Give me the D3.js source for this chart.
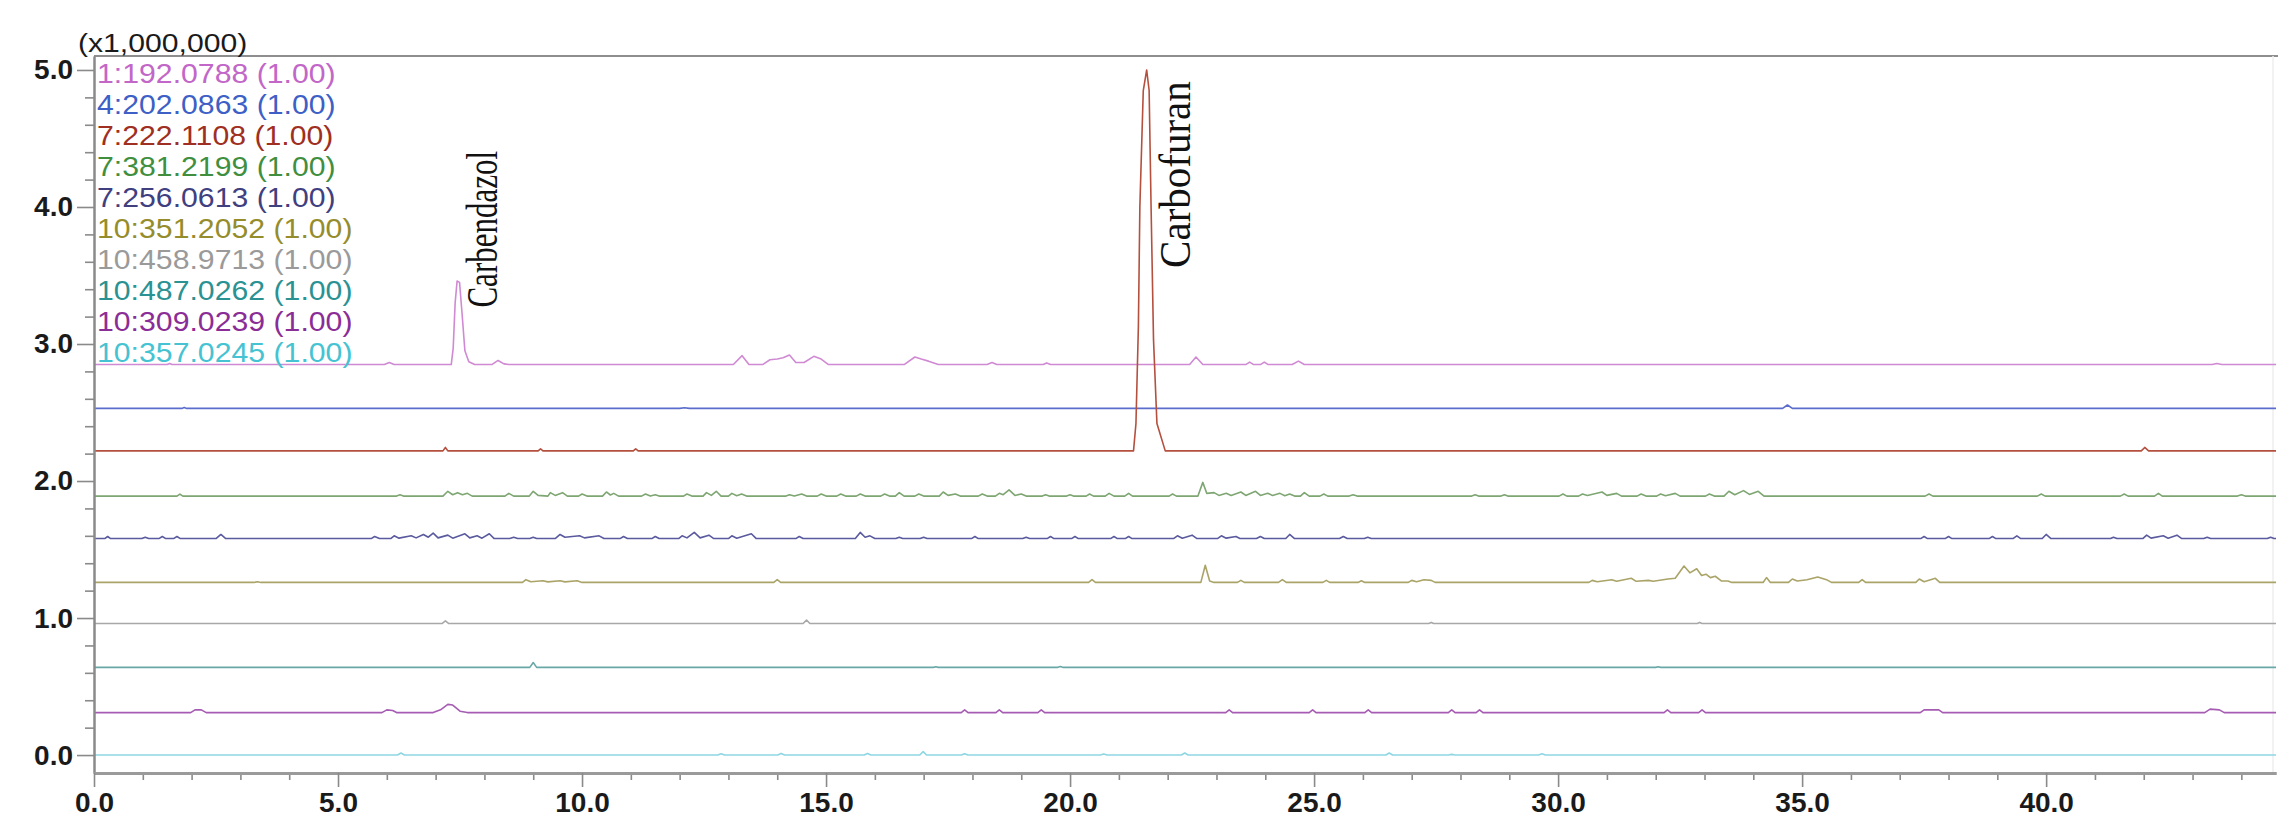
<!DOCTYPE html>
<html>
<head>
<meta charset="utf-8">
<script src="https://cdn.jsdelivr.net/npm/d3@7"></script>
<style>
  html, body { margin: 0; padding: 0; background: #fff; }
  svg { display: block; }
</style>
</head>
<body>
<svg id="chart" width="2278" height="827"></svg>
<script>
// ---------------- DATA ----------------
const seriesLabels = ["1:192.0788 (1.00)", "4:202.0863 (1.00)", "7:222.1108 (1.00)", "7:381.2199 (1.00)",
  "7:256.0613 (1.00)", "10:351.2052 (1.00)", "10:458.9713 (1.00)", "10:487.0262 (1.00)",
  "10:309.0239 (1.00)", "10:357.0245 (1.00)"];
// baseline offset of each trace (x1,000,000)
const baselines = [2.85, 2.53, 2.22, 1.89, 1.58, 1.26, 0.96, 0.64, 0.31, 0.0];
const xMajorTicks = [0, 5, 10, 15, 20, 25, 30, 35, 40];
const yMajorTicks = [0, 1, 2, 3, 4, 5];
const yUnitLabel = "(x1,000,000)";
const peakNames = ["Carbendazol", "Carbofuran"];

// intensity above baseline, [time (min), intensity (x1,000,000)]
const s1 = [[0,0],[1.5,0],[1.55,0.008],[1.6,0],[5.95,0],[6.05,0.015],[6.15,0],[7.32,0],[7.36,0.12],[7.4,0.45],[7.44,0.61],[7.49,0.6],[7.54,0.38],[7.6,0.1],[7.68,0.02],[7.8,0],[8.15,0],[8.28,0.03],[8.4,0.005],[8.5,0],[13.1,0],[13.28,0.065],[13.42,0],[13.7,0],[13.85,0.035],[14.0,0.04],[14.12,0.05],[14.25,0.07],[14.38,0.015],[14.55,0.015],[14.75,0.06],[14.9,0.04],[15.05,0],[16.6,0],[16.82,0.055],[16.95,0.04],[17.1,0.025],[17.3,0],[18.3,0],[18.4,0.015],[18.5,0],[19.45,0],[19.52,0.012],[19.6,0],[22.45,0],[22.58,0.055],[22.72,0],[23.6,0],[23.68,0.018],[23.76,0],[23.9,0],[23.98,0.018],[24.06,0],[24.55,0],[24.68,0.025],[24.8,0],[43.4,0],[43.5,0.008],[43.6,0],[44.71,0]];
const s2 = [[0,0],[1.8,0],[1.85,0.006],[1.9,0],[12.0,0],[12.1,0.005],[12.2,0],[34.6,0],[34.7,0.025],[34.8,0],[44.71,0]];
const s3 = [[0,0],[7.15,0],[7.2,0.025],[7.25,0],[9.1,0],[9.15,0.015],[9.2,0],[11.05,0],[11.1,0.015],[11.15,0],[21.3,0],[21.35,0.2],[21.4,0.91],[21.43,1.78],[21.5,2.63],[21.57,2.78],[21.62,2.63],[21.66,1.78],[21.71,0.81],[21.78,0.2],[21.95,0],[41.95,0],[42.02,0.025],[42.1,0],[44.71,0]];
const s4 = [[0,0],[1.7,0],[1.76,0.015],[1.82,0],[6.2,0],[6.27,0.01],[6.34,0],[7.15,0],[7.25,0.035],[7.35,0.01],[7.45,0.025],[7.55,0.01],[7.65,0.02],[7.75,0],[8.42,0],[8.5,0.02],[8.6,0],[8.92,0],[9.0,0.035],[9.1,0.005],[9.3,0],[9.35,0.025],[9.45,0.005],[9.6,0.025],[9.7,0],[9.93,0],[10.0,0.015],[10.1,0],[10.42,0],[10.5,0.03],[10.58,0.008],[10.65,0.02],[10.75,0],[11.22,0],[11.3,0.015],[11.4,0],[11.5,0.01],[11.58,0],[12.08,0],[12.15,0.015],[12.25,0],[12.48,0],[12.55,0.025],[12.65,0.005],[12.75,0.035],[12.85,0],[13.0,0],[13.07,0.02],[13.17,0.003],[13.27,0.015],[13.37,0],[14.18,0],[14.25,0.01],[14.35,0],[14.5,0.015],[14.6,0],[14.82,0],[14.9,0.015],[15.0,0],[15.22,0],[15.3,0.015],[15.4,0],[15.62,0],[15.7,0.015],[15.8,0],[16.12,0],[16.2,0.015],[16.3,0],[16.42,0],[16.5,0.025],[16.6,0],[16.82,0],[16.9,0.015],[17.0,0],[17.32,0],[17.4,0.03],[17.5,0.005],[17.65,0.015],[17.75,0],[18.12,0],[18.2,0.015],[18.3,0],[18.47,0],[18.55,0.02],[18.63,0.01],[18.75,0.045],[18.87,0.005],[19.0,0.015],[19.1,0],[19.43,0],[19.5,0.01],[19.57,0],[19.93,0],[20.0,0.01],[20.07,0],[20.33,0],[20.4,0.015],[20.48,0],[20.72,0],[20.8,0.02],[20.9,0],[21.12,0],[21.2,0.02],[21.28,0],[22.03,0],[22.1,0.015],[22.18,0],[22.62,0],[22.72,0.1],[22.8,0.02],[22.95,0.025],[23.05,0.005],[23.2,0.02],[23.3,0.005],[23.5,0.03],[23.6,0.005],[23.8,0.035],[23.9,0.005],[24.05,0.02],[24.15,0.005],[24.3,0.02],[24.4,0.003],[24.5,0.015],[24.6,0],[24.72,0],[24.8,0.025],[24.9,0],[25.12,0],[25.2,0.015],[25.28,0],[25.72,0],[25.8,0.01],[25.88,0],[28.23,0],[28.3,0.01],[28.37,0],[28.83,0],[28.9,0.01],[28.97,0],[30.02,0],[30.1,0.015],[30.18,0],[30.42,0],[30.5,0.015],[30.6,0.005],[30.9,0.03],[31.0,0.005],[31.2,0.02],[31.3,0],[31.62,0],[31.7,0.015],[31.8,0],[32.02,0],[32.1,0.015],[32.2,0.003],[32.4,0.02],[32.5,0],[33.02,0],[33.1,0.015],[33.2,0],[33.4,0],[33.5,0.035],[33.62,0.01],[33.8,0.04],[33.92,0.012],[34.1,0.035],[34.22,0],[37.52,0],[37.6,0.015],[37.68,0],[39.82,0],[39.9,0.015],[39.98,0],[41.52,0],[41.6,0.015],[41.68,0],[42.22,0],[42.3,0.02],[42.38,0],[43.92,0],[44.0,0.01],[44.08,0],[44.71,0]];
const s5 = [[0,0],[0.22,0],[0.28,0.015],[0.34,0],[0.98,0],[1.05,0.01],[1.12,0],[1.33,0],[1.4,0.015],[1.47,0],[1.63,0],[1.7,0.015],[1.77,0],[2.5,0],[2.6,0.03],[2.7,0],[5.68,0],[5.75,0.015],[5.85,0],[6.08,0],[6.15,0.02],[6.25,0.003],[6.5,0.02],[6.6,0.005],[6.75,0.03],[6.85,0.01],[6.95,0.04],[7.05,0.005],[7.25,0.025],[7.35,0.003],[7.6,0.035],[7.7,0.005],[7.85,0.02],[7.95,0.003],[8.1,0.035],[8.2,0],[8.52,0],[8.6,0.01],[8.68,0],[8.93,0],[9.0,0.01],[9.07,0],[9.45,0],[9.55,0.03],[9.65,0.01],[9.95,0.02],[10.05,0.005],[10.35,0.02],[10.45,0],[10.78,0],[10.85,0.015],[10.93,0],[11.43,0],[11.5,0.015],[11.58,0],[11.98,0],[12.05,0.02],[12.15,0.005],[12.3,0.045],[12.42,0.005],[12.6,0.025],[12.7,0],[13.0,0],[13.07,0.02],[13.17,0.003],[13.47,0.035],[13.57,0],[14.38,0],[14.45,0.015],[14.53,0],[15.6,0],[15.7,0.045],[15.8,0.01],[15.9,0.02],[16.0,0],[16.43,0],[16.5,0.01],[16.57,0],[16.93,0],[17.0,0.01],[17.07,0],[17.98,0],[18.05,0.015],[18.12,0],[19.03,0],[19.1,0.01],[19.17,0],[19.53,0],[19.6,0.015],[19.67,0],[20.03,0],[20.1,0.015],[20.17,0],[20.83,0],[20.9,0.015],[20.97,0],[21.13,0],[21.2,0.015],[21.27,0],[22.12,0],[22.2,0.02],[22.3,0.003],[22.5,0.025],[22.6,0],[23.02,0],[23.1,0.02],[23.2,0.003],[23.4,0.015],[23.48,0],[23.82,0],[23.9,0.015],[23.98,0],[24.42,0],[24.5,0.03],[24.6,0],[25.52,0],[25.6,0.015],[25.68,0],[26.03,0],[26.1,0.01],[26.17,0],[37.43,0],[37.5,0.015],[37.57,0],[37.93,0],[38.0,0.015],[38.07,0],[38.83,0],[38.9,0.015],[38.97,0],[39.32,0],[39.4,0.02],[39.48,0],[39.92,0],[40.0,0.03],[40.1,0],[41.32,0],[41.38,0.01],[41.45,0],[41.98,0],[42.06,0.025],[42.15,0.003],[42.4,0.02],[42.5,0.003],[42.68,0.025],[42.78,0],[43.23,0],[43.3,0.01],[43.37,0],[44.53,0],[44.6,0.01],[44.67,0],[44.71,0]];
const s6 = [[0,0],[3.28,0],[3.35,0.005],[3.42,0],[8.78,0],[8.85,0.02],[8.95,0.005],[9.2,0.012],[9.3,0.004],[9.55,0.012],[9.65,0.004],[9.9,0.012],[10.0,0],[13.93,0],[14.0,0.02],[14.07,0],[20.38,0],[20.45,0.02],[20.52,0],[22.68,0],[22.77,0.125],[22.86,0.01],[22.95,0],[23.43,0],[23.5,0.015],[23.57,0],[24.27,0],[24.35,0.02],[24.43,0],[25.18,0],[25.25,0.015],[25.32,0],[25.9,0],[25.97,0.012],[26.04,0],[26.93,0],[27.0,0.015],[27.1,0.005],[27.25,0.02],[27.4,0.015],[27.48,0],[30.63,0],[30.7,0.015],[30.8,0.005],[31.1,0.02],[31.2,0.008],[31.5,0.03],[31.6,0.008],[31.85,0.015],[31.95,0.008],[32.25,0.025],[32.4,0.03],[32.58,0.12],[32.7,0.07],[32.84,0.1],[32.94,0.05],[33.03,0.06],[33.12,0.035],[33.22,0.045],[33.35,0.01],[33.48,0.01],[33.56,0],[34.2,0],[34.27,0.035],[34.35,0],[34.72,0],[34.8,0.025],[34.9,0.01],[35.1,0.02],[35.32,0.04],[35.5,0.02],[35.6,0],[36.16,0],[36.23,0.02],[36.3,0],[37.33,0],[37.4,0.025],[37.5,0.005],[37.73,0.03],[37.82,0],[44.71,0]];
const s7 = [[0,0],[7.13,0],[7.2,0.02],[7.27,0],[14.53,0],[14.6,0.025],[14.67,0],[27.35,0],[27.4,0.008],[27.45,0],[32.85,0],[32.9,0.008],[32.95,0],[44.71,0]];
const s8 = [[0,0],[8.93,0],[9.0,0.035],[9.07,0],[17.2,0],[17.25,0.005],[17.3,0],[19.75,0],[19.8,0.006],[19.85,0],[32.0,0],[32.05,0.005],[32.1,0],[44.71,0]];
const s9 = [[0,0],[1.98,0],[2.07,0.02],[2.2,0.02],[2.3,0],[5.9,0],[6.0,0.02],[6.12,0.015],[6.2,0],[6.95,0],[7.1,0.02],[7.25,0.06],[7.35,0.055],[7.5,0.01],[7.65,0],[17.77,0],[17.84,0.02],[17.91,0],[18.48,0],[18.55,0.02],[18.62,0],[19.34,0],[19.41,0.02],[19.48,0],[23.19,0],[23.26,0.02],[23.33,0],[24.9,0],[24.97,0.02],[25.04,0],[26.04,0],[26.11,0.02],[26.18,0],[27.75,0],[27.82,0.02],[27.89,0],[28.32,0],[28.39,0.02],[28.46,0],[32.17,0],[32.24,0.02],[32.31,0],[32.88,0],[32.95,0.02],[33.02,0],[37.42,0],[37.5,0.02],[37.8,0.02],[37.88,0],[43.25,0],[43.36,0.025],[43.55,0.02],[43.65,0],[44.71,0]];
const s10 = [[0,0],[6.22,0],[6.29,0.015],[6.36,0],[12.78,0],[12.85,0.01],[12.92,0],[14.01,0],[14.08,0.012],[14.15,0],[15.78,0],[15.85,0.012],[15.92,0],[16.92,0],[16.99,0.025],[17.06,0],[17.77,0],[17.84,0.01],[17.91,0],[20.62,0],[20.69,0.008],[20.76,0],[22.28,0],[22.35,0.015],[22.42,0],[26.47,0],[26.54,0.015],[26.61,0],[27.75,0],[27.82,0.005],[27.89,0],[29.6,0],[29.67,0.01],[29.74,0],[44.71,0]];
const allSeries = [s1, s2, s3, s4, s5, s6, s7, s8, s9, s10];

// ---------------- STYLE ----------------
const legendColors = ["#c266c8", "#3d5fc6", "#9e2f22", "#3f8f3f", "#404080", "#958d2c", "#9a9a9a", "#2a9292", "#8b2d96", "#45c3d2"];
const traceColors  = ["#d08ad3", "#5b6dcc", "#b4503e", "#7ea672", "#5a5a9e", "#aaa468", "#a8a8a8", "#6aa8a8", "#a65cb3", "#8fd6e4"];

const svg = d3.select("#chart");
const L = 94, R = 2276, T = 56, B = 773;
const x = d3.scaleLinear().domain([0, 44.71]).range([L, R]);
const y = d3.scaleLinear().domain([-0.131, 5.102]).range([B, T]);

const axisColor = "#8a8a8a";
const tickFont = "'Liberation Sans', Arial, Helvetica, sans-serif";

// frame (top + faint right)
svg.append("line").attr("x1", L).attr("x2", 2278).attr("y1", T).attr("y2", T)
  .attr("stroke", "#8e8e8e").attr("stroke-width", 2);
svg.append("line").attr("x1", R - 3).attr("x2", R - 3).attr("y1", T).attr("y2", B)
  .attr("stroke", "#eeeeee").attr("stroke-width", 1.5);

// traces
const line = d3.line();
allSeries.forEach((s, i) => {
  svg.append("path")
    .attr("d", line.x(d => x(d[0])).y(d => y(d[1] + baselines[i]))(s))
    .attr("fill", "none")
    .attr("stroke", traceColors[i])
    .attr("stroke-width", 1.6)
    .attr("stroke-linejoin", "round");
});

// Y axis (major + minor)
const yMinor = d3.range(0, 5.01, 0.2).filter(v => Math.abs(v - Math.round(v)) > 1e-6);
const gyMinor = svg.append("g").attr("transform", `translate(${L},0)`)
  .call(d3.axisLeft(y).tickValues(yMinor).tickSize(9).tickSizeOuter(0).tickFormat(""));
const gy = svg.append("g").attr("transform", `translate(${L},0)`)
  .call(d3.axisLeft(y).tickValues(yMajorTicks).tickSize(17).tickSizeOuter(0).tickPadding(4).tickFormat(d3.format(".1f")));
[gy, gyMinor].forEach(g => {
  g.select(".domain").attr("stroke", axisColor).attr("stroke-width", 2);
  g.selectAll(".tick line").attr("stroke", axisColor).attr("stroke-width", 1.6);
});
gy.selectAll(".tick text")
  .attr("font-family", tickFont).attr("font-size", 28).attr("font-weight", "bold").attr("fill", "#1a1a1a");

// X axis (major + minor)
const xMinor = d3.range(0, 45, 1).filter(v => v % 5 !== 0);
const gxMinor = svg.append("g").attr("transform", `translate(0,${B})`)
  .call(d3.axisBottom(x).tickValues(xMinor).tickSize(7).tickSizeOuter(0).tickFormat(""));
const gx = svg.append("g").attr("transform", `translate(0,${B})`)
  .call(d3.axisBottom(x).tickValues(xMajorTicks).tickSize(14).tickSizeOuter(0).tickPadding(5).tickFormat(d3.format(".1f")));
[gx, gxMinor].forEach(g => {
  g.select(".domain").attr("stroke", "#9a9a9a").attr("stroke-width", 3);
  g.selectAll(".tick line").attr("stroke", axisColor).attr("stroke-width", 1.6);
});
gx.selectAll(".tick text")
  .attr("font-family", tickFont).attr("font-size", 28).attr("font-weight", "bold").attr("fill", "#1a1a1a");

// unit label
svg.append("text")
  .attr("transform", `translate(78,52) scale(1.16,1)`)
  .attr("font-family", tickFont).attr("font-size", 26).attr("fill", "#1a1a1a")
  .text(yUnitLabel);

// legend
const lg = svg.append("g");
seriesLabels.forEach((lab, i) => {
  lg.append("text")
    .attr("transform", `translate(97,${74 + i * 31}) scale(1.12,1)`)
    .attr("dy", "0.35em")
    .attr("font-family", tickFont).attr("font-size", 27)
    .attr("fill", legendColors[i])
    .text(lab);
});

// peak annotations (rotated, serif)
const serif = "'Liberation Serif', 'Times New Roman', Times, serif";
svg.append("text")
  .attr("transform", `translate(${x(7.48) + 38},${y(baselines[0]) - 57}) rotate(-90) scale(1,1.45)`)
  .attr("font-family", serif).attr("font-size", 31).attr("fill", "#111")
  .text(peakNames[0]);
svg.append("text")
  .attr("transform", `translate(${x(21.57) + 43},${y(baselines[2]) - 183}) rotate(-90) scale(1,1.1)`)
  .attr("font-family", serif).attr("font-size", 41).attr("fill", "#111")
  .text(peakNames[1]);
</script>
</body>
</html>
